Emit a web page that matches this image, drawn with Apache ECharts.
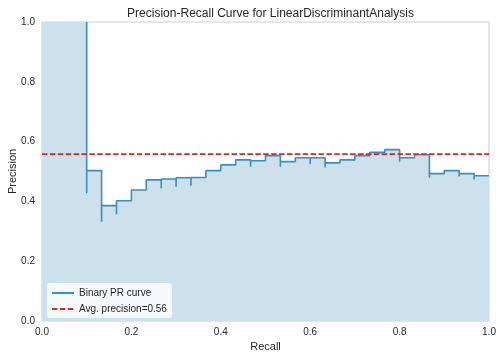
<!DOCTYPE html>
<html><head><meta charset="utf-8">
<script src="https://cdn.jsdelivr.net/npm/echarts@6/dist/echarts.min.js"></script>
<style>html,body{margin:0;padding:0;background:#fff}#c{width:502px;height:359px}</style>
</head><body><div id="c"></div>
<script>
// Step points of the precision-recall curve (left to right)
const startPoint = [0.0, 1.0];
const recall = [0.1, 0.1333, 0.1667, 0.2, 0.2333, 0.2667, 0.3, 0.3333, 0.3667, 0.4, 0.4333, 0.4667, 0.5,
  0.5333, 0.5667, 0.6, 0.6333, 0.6667, 0.7, 0.7333, 0.7667, 0.8, 0.8333, 0.8667, 0.9, 0.9333, 0.9667];
const precisionDip = [0.427, 0.332, 0.357, null, null, 0.444, 0.449, 0.452, null, null, null, 0.516, null,
  0.516, null, 0.525, 0.513, null, null, null, null, 0.533, null, 0.479, null, 0.483, 0.473];
const precisionLevel = [0.503, 0.386, 0.402, 0.438, 0.472, 0.475, 0.479, 0.480, 0.503, 0.522, 0.539, 0.536, 0.553,
  0.533, 0.546, 0.546, 0.529, 0.539, 0.553, 0.564, 0.573, 0.546, 0.556, 0.493, 0.503, 0.493, 0.486];
const endRecall = 1.0;
const avgPrecision = 0.558;

const pts = [startPoint];
let prev = startPoint[1];
for (let i = 0; i < recall.length; i++) {
  pts.push([recall[i], prev]);
  if (precisionDip[i] !== null) pts.push([recall[i], precisionDip[i]]);
  pts.push([recall[i], precisionLevel[i]]);
  prev = precisionLevel[i];
}
pts.push([endRecall, prev]);

const font = 'Liberation Sans, Arial, sans-serif';
const chart = echarts.init(document.getElementById('c'));
chart.setOption({
  animation: false,
  backgroundColor: '#ffffff',
  title: {
    text: 'Precision-Recall Curve for LinearDiscriminantAnalysis',
    left: 265.5, top: 3, textAlign: 'center',
    textStyle: {fontFamily: font, fontSize: 12, fontWeight: 'normal', color: '#262626'}
  },
  grid: {left: 42, right: 13, top: 22, bottom: 38, containLabel: false, outerBoundsMode: 'none',
    show: true, borderColor: '#cccccc', borderWidth: 1, backgroundColor: 'transparent'},
  xAxis: {
    type: 'value', min: 0, max: 1, interval: 0.2,
    name: 'Recall', nameLocation: 'middle', nameGap: 20, nameMoveOverlap: false,
    nameTextStyle: {fontFamily: font, fontSize: 11, color: '#262626'},
    axisLine: {show: false}, axisTick: {show: false}, splitLine: {show: false},
    axisLabel: {fontFamily: font, fontSize: 10, color: '#262626', margin: 6, formatter: v => v.toFixed(1)}
  },
  yAxis: {
    type: 'value', min: 0, max: 1, interval: 0.2,
    name: 'Precision', nameLocation: 'middle', nameGap: 24, nameMoveOverlap: false,
    nameTextStyle: {fontFamily: font, fontSize: 11, color: '#262626'},
    axisLine: {show: false}, axisTick: {show: false}, splitLine: {show: false},
    axisLabel: {fontFamily: font, fontSize: 10, color: '#262626', margin: 7, formatter: v => v.toFixed(1)}
  },
  legend: {
    orient: 'vertical', left: 47, top: 283,
    backgroundColor: 'rgba(255,255,255,0.78)', borderRadius: 3, borderWidth: 0,
    padding: [5, 5, 4, 4], itemGap: 6, itemWidth: 22, itemHeight: 8,
    itemStyle: {opacity: 0},
    textStyle: {fontFamily: font, fontSize: 10, color: '#262626'},
    data: ['Binary PR curve', 'Avg. precision=0.56']
  },
  series: [
    {
      name: 'fill', type: 'line', data: pts, symbol: 'none', clip: true,
      lineStyle: {width: 0, opacity: 0},
      areaStyle: {color: '#cde1ec', opacity: 1},
      z: 1
    },
    {
      name: 'Binary PR curve', type: 'line', data: pts.slice(1), symbol: 'none', clip: true,
      lineStyle: {color: '#3a8fbe', width: 1.6},
      itemStyle: {color: '#3a8fbe'},
      z: 2
    },
    {
      name: 'Avg. precision=0.56', type: 'line', data: [[0, avgPrecision], [1, avgPrecision]], symbol: 'none',
      lineStyle: {color: '#d62728', width: 1.8, type: [5.5, 2.4]},
      itemStyle: {color: '#d62728'},
      z: 3
    }
  ]
});
</script></body></html>
